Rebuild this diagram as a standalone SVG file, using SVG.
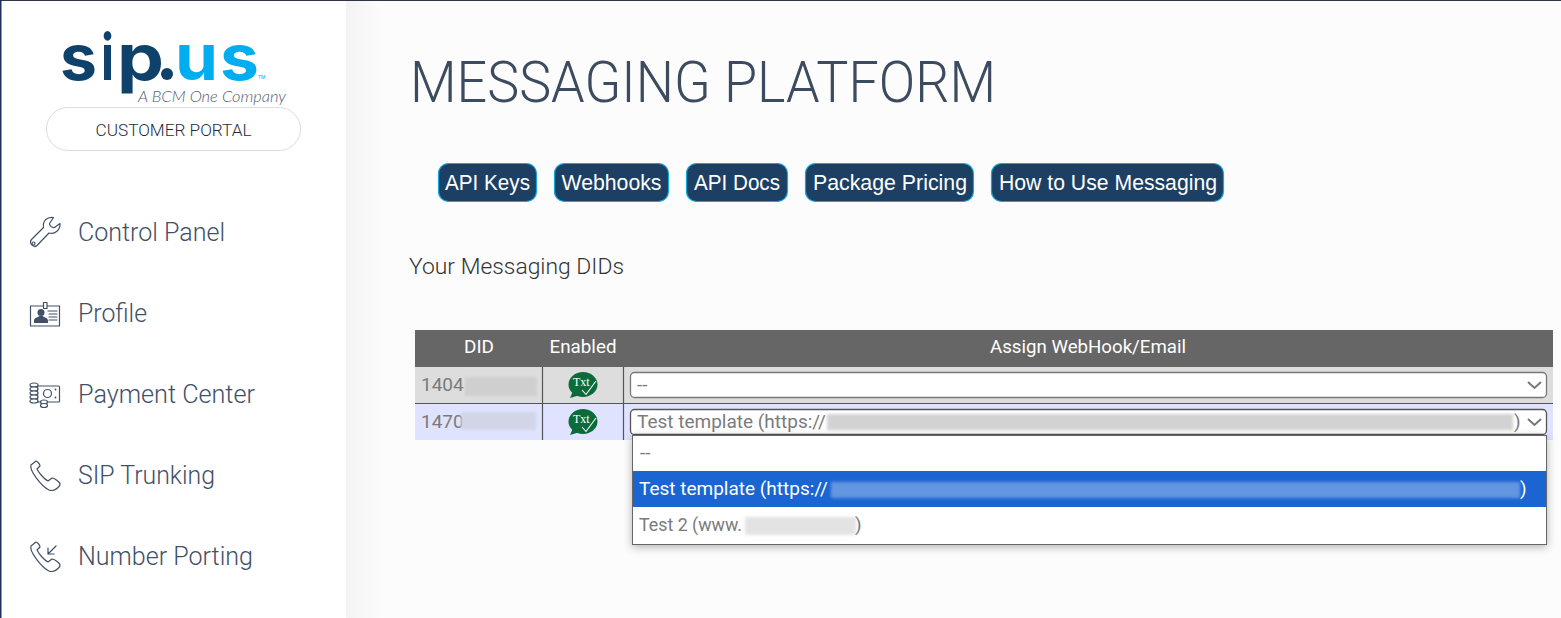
<svg xmlns="http://www.w3.org/2000/svg" width="1561" height="618" viewBox="0 0 1561 618">
<style>
text{font-family:"Roboto","Liberation Sans",sans-serif}
.nav{font-size:25px;font-weight:300;fill:#3f5068}
.ic{fill:none;stroke:#3f5068;stroke-width:1.2;stroke-linecap:round;stroke-linejoin:round}
.btn rect{fill:#1d3f63;stroke:#14a9dc;stroke-width:1.2}
.btn text{font-family:"Liberation Sans",sans-serif;font-size:21.500px;fill:#fff;text-anchor:middle}
.th{font-size:18px;fill:#fff;text-anchor:middle}
.cell{font-size:19px;fill:#7b7b7b;font-weight:400}
.sel{fill:#fff;stroke:#777;stroke-width:1.3}
.chev{fill:none;stroke:#777;stroke-width:2}
.sep{stroke:#555;stroke-width:1.2}
.blur{filter:url(#b)}
.logo{font-family:"Inter","Liberation Sans",sans-serif;font-weight:700;font-size:64px}
.navy{fill:#0f426b}
.cyan{fill:#00aeef}
.txt{font-family:"Liberation Serif",serif;font-size:12px;fill:#fff}
</style>
<defs>
<filter id="b" x="-10%" y="-40%" width="120%" height="180%"><feGaussianBlur stdDeviation="1.500"/></filter>
<filter id="s" x="-3%" y="-10%" width="106%" height="125%"><feDropShadow dx="0" dy="2" stdDeviation="4" flood-color="#000" flood-opacity=".3"/></filter>
<linearGradient id="g" x1="0" x2="1" y1="0" y2="0"><stop offset="0" stop-color="#f3f3f3"/><stop offset="1" stop-color="#fcfcfc"/></linearGradient>
<g id="bubble">
<ellipse cx="0" cy="-0.500" rx="14.500" ry="12.500" fill="#0b6b3a"/>
<path d="M-10 6L-13 13L-3 10Z" fill="#0b6b3a"/>
<text class="txt" x="-10" y="1">Txt</text>
<path d="M-1 5L3 9.500L13 -4" fill="none" stroke="#fff" stroke-width="1.100"/>
</g>
<g id="handset">
<path class="ic" d="M36 0L31 4C29 9 41 25 49 29C54 31 60 26 60 23C60 21 54 17 52 17L48 20C44 18 39 12 37 8L40 5C40 3 37 0 36 0Z"/>
</g>
</defs>
<rect width="1561" height="618" fill="#fcfcfc"/>
<rect x="346" y="0" width="36" height="618" fill="url(#g)"/>
<rect width="346" height="618" fill="#fff"/>
<rect width="1561" height="1" fill="#2c3645"/>
<rect width="1.500" height="618" fill="#1d3158"/>

<g id="logo">
<text class="logo navy" x="60" y="80" textLength="37" lengthAdjust="spacingAndGlyphs">s</text>
<text class="logo navy" x="101" y="80" textLength="13" lengthAdjust="spacingAndGlyphs">i</text>
<text class="logo navy" x="117" y="80" textLength="47" lengthAdjust="spacingAndGlyphs">p</text>
<circle class="navy" cx="167" cy="74" r="6"/>
<text class="logo cyan" x="175" y="80" textLength="43" lengthAdjust="spacingAndGlyphs">u</text>
<text class="logo cyan" x="220" y="80" textLength="39" lengthAdjust="spacingAndGlyphs">s</text>
<text class="cyan" x="258" y="79" font-size="5">TM</text>
<text x="138" y="102" font-size="15" font-weight="300" fill="#4f5e73" textLength="148" lengthAdjust="spacingAndGlyphs" style="font-family:Lato,sans-serif;font-style:italic">A BCM One Company</text>
</g>
<g id="customer-portal">
<rect x="46.500" y="107.500" width="254" height="43" rx="21.500" fill="#fff" stroke="#ddd"/>
<text x="173.500" y="136" font-size="16" font-weight="300" fill="#1f2d3d" text-anchor="middle" textLength="156" lengthAdjust="spacingAndGlyphs">CUSTOMER PORTAL</text>
</g>

<g id="nav-control-panel">
<path class="ic" d="M53.500 217.500C47 216.500 42.500 221 43.500 227.500L31.500 239.500C28.500 243 33.500 248.500 37 245.500L49 233C55 234.500 60.500 230 60 223.500L54.500 227.500C52 228 49.500 226 49.500 223.500Z"/>
<circle class="ic" cx="33.500" cy="243.500" r="1.500"/>
<text class="nav" x="78" y="241" textLength="147" lengthAdjust="spacingAndGlyphs">Control Panel</text>
</g>
<g id="nav-profile">
<rect class="ic" x="30.500" y="306" width="29" height="20"/>
<rect class="ic" x="43.500" y="302.500" width="3.500" height="6" style="fill:#fff"/>
<circle cx="41" cy="312.500" r="3.500" fill="#3f5068"/>
<path d="M34 323V321C34 317 38 318 39 316H43C44 318 48 317 48 321V323Z" fill="#3f5068"/>
<path class="ic" d="M48 311H57M49 314H57M49 317H57M49 320H57"/>
<text class="nav" x="78" y="322" textLength="69" lengthAdjust="spacingAndGlyphs">Profile</text>
</g>
<g id="nav-payment-center">
<rect class="ic" x="37.500" y="386" width="22" height="16" rx="1"/>
<circle class="ic" cx="47.500" cy="393.500" r="4"/>
<circle cx="55.500" cy="389.500" r=".9" fill="#3f5068"/>
<circle cx="55.500" cy="397.500" r=".9" fill="#3f5068"/>
<ellipse class="ic" cx="34" cy="385" rx="4" ry="2" style="fill:#fff"/>
<ellipse class="ic" cx="34" cy="389" rx="4" ry="2" style="fill:#fff"/>
<ellipse class="ic" cx="34" cy="393" rx="4" ry="2" style="fill:#fff"/>
<ellipse class="ic" cx="34" cy="397" rx="4" ry="2" style="fill:#fff"/>
<ellipse class="ic" cx="34" cy="401" rx="4" ry="2" style="fill:#fff"/>
<ellipse class="ic" cx="44" cy="402" rx="3.500" ry="2" style="fill:#fff"/>
<ellipse class="ic" cx="44" cy="405.500" rx="3.500" ry="2" style="fill:#fff"/>
<text class="nav" x="78" y="403" textLength="177" lengthAdjust="spacingAndGlyphs">Payment Center</text>
</g>
<g id="nav-sip-trunking">
<use href="#handset" y="461"/>
<text class="nav" x="78" y="484" textLength="137" lengthAdjust="spacingAndGlyphs">SIP Trunking</text>
</g>
<g id="nav-number-porting">
<use href="#handset" y="542"/>
<path class="ic" d="M56 546L48 554M48 548V554H54"/>
<text class="nav" x="78" y="565" textLength="175" lengthAdjust="spacingAndGlyphs">Number Porting</text>
</g>

<text id="title" x="410" y="102" font-size="56.500" font-weight="300" fill="#3c4b60" textLength="586" lengthAdjust="spacingAndGlyphs">MESSAGING PLATFORM</text>

<g id="btn-api-keys" class="btn"><rect x="438.500" y="163.500" width="98" height="38" rx="10"/><text x="487.500" y="190" textLength="85" lengthAdjust="spacingAndGlyphs">API Keys</text></g>
<g id="btn-webhooks" class="btn"><rect x="554.500" y="163.500" width="114" height="38" rx="10"/><text x="611.500" y="190" textLength="100" lengthAdjust="spacingAndGlyphs">Webhooks</text></g>
<g id="btn-api-docs" class="btn"><rect x="686.500" y="163.500" width="101" height="38" rx="10"/><text x="737" y="190" textLength="86" lengthAdjust="spacingAndGlyphs">API Docs</text></g>
<g id="btn-package-pricing" class="btn"><rect x="805.500" y="163.500" width="168" height="38" rx="10"/><text x="890" y="190" textLength="154" lengthAdjust="spacingAndGlyphs">Package Pricing</text></g>
<g id="btn-how-to" class="btn"><rect x="991.500" y="163.500" width="232" height="38" rx="10"/><text x="1108" y="190" textLength="218" lengthAdjust="spacingAndGlyphs">How to Use Messaging</text></g>

<text id="subtitle" x="409" y="274" font-size="22" font-weight="300" fill="#333" textLength="215" lengthAdjust="spacingAndGlyphs">Your Messaging DIDs</text>

<g id="table">
<rect x="415" y="330" width="1138" height="37" fill="#666"/>
<rect x="415" y="367" width="1138" height="36" fill="#ddd"/>
<rect x="415" y="404" width="1138" height="36" fill="#dfe3ff"/>
<path class="sep" d="M415 403.500H1553M542.500 367V440M623.500 367V440"/>
<text class="th" x="479" y="353" textLength="30" lengthAdjust="spacingAndGlyphs">DID</text>
<text class="th" x="583" y="353" textLength="67" lengthAdjust="spacingAndGlyphs">Enabled</text>
<text class="th" x="1088" y="353" textLength="196" lengthAdjust="spacingAndGlyphs">Assign WebHook/Email</text>
<text class="cell" x="421" y="391">1404</text>
<rect class="blur" x="465" y="377" width="72" height="19" fill="#cfcfcf"/>
<text class="cell" x="421" y="428">1470</text>
<rect class="blur" x="461" y="412" width="75" height="18" fill="#d2d5e8"/>
<use href="#bubble" x="583" y="385"/>
<use href="#bubble" x="583" y="422"/>
</g>
<g id="select-1">
<rect class="sel" x="630.500" y="372.500" width="916" height="25" rx="4"/>
<text class="cell" x="637" y="391" font-size="18">--</text>
<path class="chev" d="M1528 382L1534.500 388L1541 382"/>
</g>
<g id="select-2">
<rect class="sel" x="630.500" y="409.500" width="916" height="25" rx="4" style="stroke:#555"/>
<text class="cell" x="637" y="428">Test template (https://</text>
<rect class="blur" x="827" y="414" width="686" height="16" fill="#d2d2d2"/>
<text class="cell" x="1514" y="428">)</text>
<path class="chev" d="M1528 419L1534.500 425L1541 419"/>
</g>
<g id="dropdown">
<rect x="632.500" y="435.500" width="914" height="109" fill="#fff" stroke="#666" filter="url(#s)"/>
<text class="cell" x="640" y="459" font-size="18">--</text>
<rect x="633" y="471" width="913" height="36" fill="#1a65d2"/>
<text class="cell" x="639" y="495" style="fill:#fff">Test template (https://</text>
<rect class="blur" x="831" y="482" width="689" height="16" fill="#6496e0"/>
<text class="cell" x="1520" y="495" style="fill:#fff">)</text>
<text class="cell" x="639" y="531" textLength="103" lengthAdjust="spacingAndGlyphs">Test 2 (www.</text>
<rect class="blur" x="745" y="517" width="111" height="18" fill="#e3e3e3"/>
<text class="cell" x="855" y="531">)</text>
</g>
</svg>
